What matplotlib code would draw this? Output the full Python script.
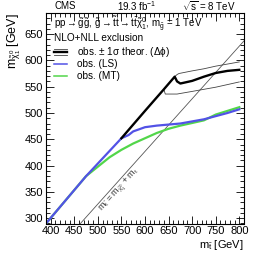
import numpy as np
import matplotlib
matplotlib.use("Agg")
import matplotlib.pyplot as plt
from matplotlib.ticker import MultipleLocator

plt.rcParams['font.family'] = ['Liberation Sans', 'DejaVu Sans']
plt.rcParams['mathtext.fontset'] = 'custom'
plt.rcParams['mathtext.rm'] = 'Liberation Sans'
plt.rcParams['mathtext.it'] = 'Liberation Sans'
plt.rcParams['mathtext.default'] = 'regular'

# observed limits (m_stop, m_LSP)
mt_x = [390, 475, 500, 525, 550, 575, 600, 625, 650, 675, 700, 725, 750, 775, 800]
mt_y = [290, 380, 398, 416, 430, 442, 452, 462, 470, 476, 481, 486, 497, 504, 511]

ls_x = [390, 475, 550, 565, 575, 600, 625, 650, 675, 700, 725, 750, 775, 800]
ls_y = [290, 380, 452, 458, 465, 473, 476, 478, 480, 484, 488, 494, 500, 507]

dphi_x = [550, 600, 640, 663, 668, 675, 700, 725, 750, 775, 800]
dphi_y = [452, 504, 545, 569, 560, 556, 561, 569, 576, 580, 582]

dphi_up_x = [663, 668, 672, 700, 725, 750, 775, 800]
dphi_up_y = [569, 573, 575, 580, 584, 589, 593, 597]

dphi_dn_x = [640, 643, 668, 700, 725, 750, 775, 800]
dphi_dn_y = [545, 536, 536, 541, 545, 549, 554, 559]

m_top = 173.0
diag_x = np.array([390, 810])

blue = '#5252e6'
green = '#52d64a'

fig = plt.figure(figsize=(2.57, 2.58), dpi=100)
ax = fig.add_axes([46/257, 1 - 223.5/258, 198/257, 210.5/258])

ax.plot(diag_x, diag_x - m_top, color='#555555', lw=0.6)
ax.plot(mt_x, mt_y, color=green, lw=1.6)
ax.plot(ls_x, ls_y, color=blue, lw=1.6)
ax.plot(dphi_up_x, dphi_up_y, color='#444444', lw=0.6)
ax.plot(dphi_dn_x, dphi_dn_y, color='#444444', lw=0.6)
ax.plot(dphi_x, dphi_y, color='black', lw=1.7)

ax.set_xlim(390, 810)
ax.set_ylim(290, 690)
ax.xaxis.set_major_locator(MultipleLocator(50))
ax.xaxis.set_minor_locator(MultipleLocator(10))
ax.yaxis.set_major_locator(MultipleLocator(50))
ax.yaxis.set_minor_locator(MultipleLocator(10))
ax.tick_params(which='both', direction='in', top=True, right=True, labelsize=8, pad=2, width=0.6)
ax.tick_params(which='major', length=6)
ax.tick_params(which='minor', length=3)
for s in ax.spines.values():
    s.set_linewidth(0.8)

ax.set_xlabel(r'm$_{\tilde{t}}$ [GeV]', loc='right', fontsize=8, labelpad=1)
ax.set_ylabel(r'm$_{\tilde{\chi}^0_1}$ [GeV]', loc='top', fontsize=9, labelpad=1)

ax.text(546, 354, r'm$_{\tilde{t}}$ = m$_{\tilde{\chi}^0_1}$ + m$_t$', rotation=48,
        fontsize=6.5, ha='center', va='center', color='#333333')

# header
fig.text(65/257, 1 - 6/258, 'CMS', fontsize=7, ha='center', va='center')
fig.text(137/257, 1 - 6/258, r'19.3 fb$^{-1}$', fontsize=7, ha='center', va='center')
fig.text(236/257, 1 - 6/258, r'$\sqrt{s}$ = 8 TeV', fontsize=7, ha='right', va='center')

# legend block
ax.text(0.04, 0.929, r'pp$\rightarrow\tilde{g}\tilde{g}$, $\tilde{g}\rightarrow\tilde{t}$t$\rightarrow$t$\bar{t}\tilde{\chi}^0_1$, m$_{\tilde{g}}$ = 1 TeV',
        transform=ax.transAxes, fontsize=7, va='baseline')
ax.text(0.04, 0.867, 'NLO+NLL exclusion', transform=ax.transAxes, fontsize=7.2, va='baseline')
labels = [r'obs. $\pm$ 1$\sigma$ theor. ($\Delta\phi$)', 'obs. (LS)', 'obs. (MT)']
colors = ['black', blue, green]
widths = [1.7, 1.1, 1.1]
ys = [0.815, 0.759, 0.703]
for lab, c, w, y in zip(labels, colors, widths, ys):
    ax.plot([0.04, 0.106], [y, y], color=c, lw=w, transform=ax.transAxes)
    ax.text(0.157, y, lab, transform=ax.transAxes, fontsize=7.2, va='center')
for dy in (0.014, -0.014):
    ax.plot([0.04, 0.106], [0.815 + dy, 0.815 + dy], color='#444444', lw=0.6, transform=ax.transAxes)

fig.savefig('out.png', dpi=100)
